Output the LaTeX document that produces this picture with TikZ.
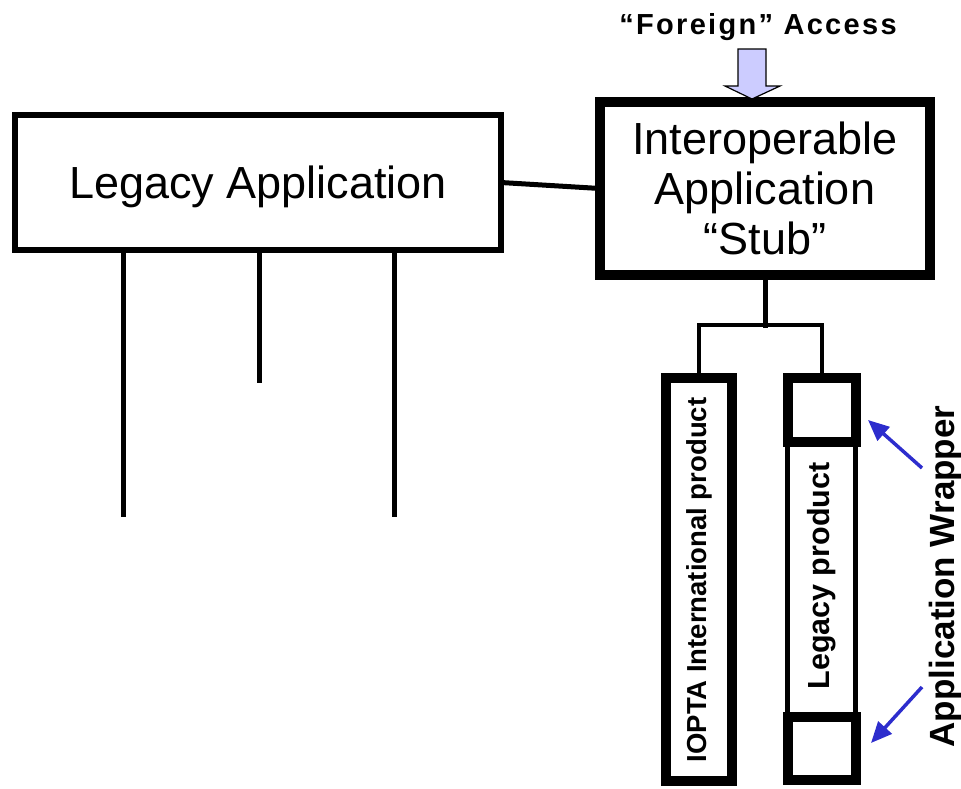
\documentclass[tikz,border=0pt]{standalone}
\usepackage{fontspec}
\setmainfont{Liberation Sans}
\usetikzlibrary{arrows.meta}
\definecolor{lavender}{RGB}{204,204,255}
\definecolor{pointer}{RGB}{45,45,205}

\begin{document}
\begin{tikzpicture}[x=1pt,y=-1pt,
  frame/.style={draw, line width=#1, inner sep=0pt, outer sep=0pt},
  bigtext/.style={font=\fontsize{45}{50}\selectfont, align=center},
  link/.style={line width=5pt},
  leg/.style={line width=5pt},
  pointerarrow/.style={draw=pointer, line width=3.5pt,
    -{Triangle[length=21pt,width=18pt]}}]
\useasboundingbox (0,0) rectangle (961,788);

% main boxes
\node[frame=6pt, minimum width=486pt, minimum height=135pt, bigtext,
      text depth=0pt] (legacy) at (258,182.5) {Legacy Application};
\node[frame=10pt, minimum width=330pt, minimum height=173pt, bigtext]
      (stub) at (765,188.5) {Interoperable\\Application\\“Stub”};

% link between the two applications
\draw[link] (legacy.east) -- (stub.west);

% legacy interfaces hanging below the legacy application
\coordinate (leg1) at (123,517);
\coordinate (leg2) at (259,383);
\coordinate (leg3) at (394.5,517);
\foreach \c in {leg1,leg2,leg3}
  \draw[leg] (legacy.south -| \c) -- (\c);

% foreign access arrow
\node[font=\bfseries\fontsize{29}{32}\selectfont\addfontfeature{LetterSpace=8},
      anchor=base] (foreign) at (758,34) {“Foreign” Access};
\draw[fill=lavender, line width=1.2pt, line join=miter]
  (738,49) -- (766,49) -- (766,86) -- (780,86) -- (752,99) -- (725,86)
  -- (738,86) -- cycle;

% product columns
\node[frame=10pt, minimum width=66pt, minimum height=403pt] (iopta)
  at (699,579.5) {};
\node[rotate=90, font=\bfseries\fontsize{27.5}{30}\selectfont] (ioptatext)
  at (699,580) {IOPTA International product};

\draw[line width=5pt] (787.5,442) rectangle (855.5,717);
\node[frame=10pt, minimum width=68pt, minimum height=64pt, fill=white]
  (wraptop) at (822,410) {};
\node[frame=10pt, minimum width=68pt, minimum height=63pt, fill=white]
  (wrapbot) at (822,748.5) {};
\node[rotate=90, font=\bfseries\fontsize{30.5}{33}\selectfont] (legacyprod)
  at (822,576) {Legacy product};

% fork from the stub to both products
\coordinate (fork) at (765,325);
\draw[link, line cap=rect] (stub.south) -- (fork);
\draw[line width=4.5pt] (fork) -| (iopta.north);
\draw[line width=4.5pt] (fork) -| (wraptop.north);

% wrapper label and pointers
\node[rotate=90, font=\bfseries\fontsize{35}{38}\selectfont] (wrapper)
  at (945,576.5) {Application Wrapper};
\coordinate (p1) at (922,468);
\coordinate (p2) at (922,687);
\draw[pointerarrow] (p1) -- (868,420);
\draw[pointerarrow] (p2) -- (871,743);
\end{tikzpicture}
\end{document}
